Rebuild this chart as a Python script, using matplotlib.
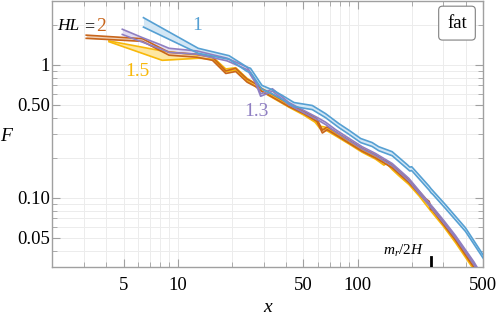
import matplotlib
matplotlib.use('Agg')
import matplotlib.pyplot as plt
from matplotlib.ticker import LogLocator, FixedLocator, FixedFormatter, NullFormatter

plt.rcParams['font.family'] = 'Liberation Serif'
plt.rcParams['mathtext.fontset'] = 'custom'
plt.rcParams['mathtext.rm'] = 'Liberation Serif'
plt.rcParams['mathtext.it'] = 'Liberation Serif:italic'

# HL = 1 (blue band)
x_hl1 = [6.45, 13.0, 19.3, 24.3, 25.4, 29.4, 33.4, 38.0, 44.3, 56.0, 66.4, 78.7, 89.5, 104, 120.5,
         131, 155.7, 190, 195, 200, 250, 256, 262, 308, 398, 500]
hi_hl1 = [2.26, 1.33, 1.17, 0.96, 0.94, 0.70, 0.65, 0.59, 0.52, 0.494, 0.429, 0.361, 0.322, 0.279, 0.26,
          0.242, 0.222, 0.176, 0.170, 0.171, 0.122, 0.117, 0.113, 0.0887, 0.0594, 0.037]
lo_hl1 = [1.92, 1.22, 1.10, 0.89, 0.875, 0.655, 0.605, 0.55, 0.485, 0.46, 0.40, 0.337, 0.30, 0.26, 0.243,
          0.226, 0.207, 0.164, 0.159, 0.160, 0.114, 0.109, 0.106, 0.083, 0.0558, 0.035]

# HL = 2 (orange band)
x_hl2 = [3.10, 6.36, 8.95, 12.8, 15.6, 18.5, 21.0, 24.3, 27.1, 29.4, 32.2, 41.5, 50, 59.4, 63.7, 67.8,
         75.5, 89.5, 106, 126, 155.7, 192.6, 240, 250, 254.5, 262, 300, 350, 443, 500]
hi_hl2 = [1.67, 1.57, 1.24, 1.20, 1.14, 0.90, 0.94, 0.78, 0.72, 0.66, 0.62, 0.509, 0.45, 0.393, 0.322, 0.341,
          0.313, 0.271, 0.235, 0.209, 0.176, 0.136, 0.098, 0.094, 0.0863, 0.084, 0.066, 0.050, 0.0316, 0.024]
lo_hl2 = [1.58, 1.50, 1.18, 1.14, 1.08, 0.86, 0.89, 0.74, 0.685, 0.63, 0.59, 0.485, 0.43, 0.375, 0.307, 0.325,
          0.298, 0.258, 0.224, 0.199, 0.168, 0.130, 0.094, 0.090, 0.082, 0.080, 0.063, 0.048, 0.030, 0.023]

# HL = 1.5 (yellow band)
x_hl15 = [4.15, 8.2, 13.1, 15.6, 18.5, 21.0, 24.3, 27.1, 29.4, 32.2, 41.5, 50, 58, 62, 66, 75.5, 89.5,
          106, 126, 140, 145, 155.7, 170, 192.6, 220, 254.5, 300, 350, 443, 500]
hi_hl15 = [1.51, 1.27, 1.18, 1.15, 0.93, 0.95, 0.79, 0.72, 0.66, 0.61, 0.50, 0.44, 0.385, 0.345, 0.34, 0.305,
           0.265, 0.23, 0.204, 0.186, 0.19, 0.171, 0.154, 0.132, 0.108, 0.084, 0.064, 0.048, 0.030, 0.023]
lo_hl15 = [1.49, 1.08, 1.12, 1.10, 0.89, 0.91, 0.755, 0.69, 0.63, 0.585, 0.48, 0.42, 0.37, 0.33, 0.325, 0.292,
           0.254, 0.22, 0.195, 0.176, 0.181, 0.163, 0.146, 0.126, 0.103, 0.080, 0.061, 0.046, 0.0288, 0.022]

# HL = 1.3 (purple band)
x_hl13 = [4.92, 6.36, 7.87, 8.95, 12.8, 18.8, 24.3, 27.1, 28.9, 32.2, 33.6, 41.5, 50, 60, 66.4, 75.5,
          89.5, 106, 126, 155.7, 192.6, 254.5, 300, 350, 443, 500]
hi_hl13 = [1.85, 1.60, 1.43, 1.33, 1.27, 1.12, 0.96, 0.76, 0.604, 0.64, 0.66, 0.52, 0.455, 0.40, 0.37, 0.325,
           0.28, 0.242, 0.215, 0.181, 0.140, 0.089, 0.068, 0.052, 0.033, 0.025]
lo_hl13 = [1.69, 1.48, 1.33, 1.24, 1.20, 1.07, 0.92, 0.73, 0.58, 0.615, 0.635, 0.50, 0.437, 0.385, 0.355, 0.312,
           0.269, 0.233, 0.207, 0.174, 0.134, 0.085, 0.065, 0.050, 0.0315, 0.024]

x_major = [5, 10, 50, 100, 500]
x_labels = ['5', '10', '50', '100', '500']
y_major = [0.05, 0.1, 0.5, 1]
y_labels = ['0.05', '0.10', '0.50', '1']
mr_2h = 255

BLUE = '#56a0d3'
ORANGE = '#c8651b'
YELLOW = '#f8b80a'
PURPLE = '#8f7fc2'

fig = plt.figure(figsize=(4.98, 3.27), dpi=100)
ax = fig.add_axes([0.1044, 0.1826, 0.8661, 0.8134])
ax.set_xscale('log')
ax.set_yscale('log')
ax.set_xlim(2, 500)
ax.set_ylim(0.03, 3)

series = [
    (x_hl15, lo_hl15, hi_hl15, YELLOW, '#fde7a3'),
    (x_hl2, lo_hl2, hi_hl2, ORANGE, '#f0d2b8'),
    (x_hl13, lo_hl13, hi_hl13, PURPLE, '#e2dcf2'),
    (x_hl1, lo_hl1, hi_hl1, BLUE, '#d3e7f5'),
]
for xs, lo, hi, col, fill in series:
    ax.fill_between(xs, lo, hi, color=fill, lw=0, zorder=2)
    ax.plot(xs, hi, color=col, lw=1.2, zorder=3)
    ax.plot(xs, lo, color=col, lw=1.2, zorder=3)

# grid on every decade subdivision
ax.xaxis.set_minor_locator(LogLocator(base=10, subs=range(1, 10), numticks=20))
ax.yaxis.set_minor_locator(LogLocator(base=10, subs=range(1, 10), numticks=20))
ax.xaxis.set_minor_formatter(NullFormatter())
ax.yaxis.set_minor_formatter(NullFormatter())
ax.xaxis.set_major_locator(FixedLocator(x_major))
ax.xaxis.set_major_formatter(FixedFormatter(x_labels))
ax.yaxis.set_major_locator(FixedLocator(y_major))
ax.yaxis.set_major_formatter(FixedFormatter(y_labels))
ax.grid(True, which='both', color='#ececec', lw=0.7, zorder=0)
ax.set_axisbelow(True)

for s in ax.spines.values():
    s.set_color('#a0a0a0')
    s.set_linewidth(1.0)
ax.tick_params(which='both', direction='in', top=True, right=True, color='#a0a0a0', labelsize=13.5)
ax.tick_params(which='major', length=6, width=0.8)
ax.tick_params(which='minor', length=3.5, width=0.6)
ax.tick_params(axis='x', pad=7)
ax.tick_params(axis='y', pad=1.5)

# curve labels
ax.text(2.15, 1.95, 'HL', style='italic', fontsize=12.5, ha='left', va='center')
ax.text(3.2, 1.95, '=', fontsize=13, ha='center', va='center')
ax.text(3.75, 1.95, '2', color=ORANGE, fontsize=14, ha='center', va='center')
ax.text(12.8, 1.98, '1', color=BLUE, fontsize=14, ha='center', va='center')
ax.text(5.94, 0.897, '1.5', color=YELLOW, fontsize=14, ha='center', va='center')
ax.text(27.5, 0.444, '1.3', color=PURPLE, fontsize=14, ha='center', va='center')

ax.text(0.939, 0.918, 'fat', transform=ax.transAxes, fontsize=13.5, ha='center', va='center',
        bbox=dict(boxstyle='round,pad=0.45,rounding_size=0.2', fc='white', ec='#808080', lw=0.8))

ax.axvline(mr_2h, ymin=0, ymax=0.04, color='black', lw=2, zorder=4)
ax.text(0.814, 0.06, '$m_r/2H$', transform=ax.transAxes, fontsize=11, ha='center', va='center')

fig.text(0.012, 0.584, 'F', style='italic', fontsize=14, ha='center', va='center')
fig.text(0.538, 0.061, 'x', style='italic', fontsize=14, ha='center', va='center')

fig.savefig('out.png', dpi=100)
